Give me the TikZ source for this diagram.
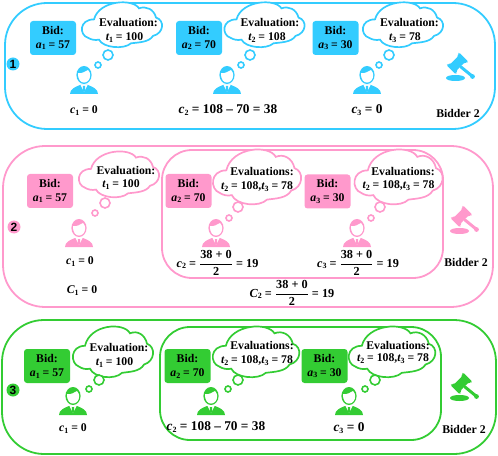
\documentclass[tikz,border=0pt]{standalone}
\usepackage{fontspec}
\setmainfont{Liberation Serif}
\setsansfont{Liberation Sans}
\definecolor{tmblue}{HTML}{33CCFF}
\definecolor{tmpink}{HTML}{FF99CC}
\definecolor{tmgreen}{HTML}{33CC33}
\newcommand{\var}[2]{{\itshape #1}\raisebox{-.35ex}{\fontsize{8}{8}\selectfont #2}}
\newcommand{\half}[1]{$\displaystyle\frac{\hbox{#1}}{\hbox{2}}$}
\tikzset{
  pics/cloud/.style={code={
    \draw[#1,line width=1.7pt,fill=white] (-33,15)
      .. controls (-42,12) and (-42,-5) .. (-27,-5)
      .. controls (-22,-26) and (12,-28) .. (18,-17)
      .. controls (25,-20) and (33,-16) .. (35,-7)
      .. controls (44,-4) and (43,10) .. (32,13)
      .. controls (28,20) and (17,20) .. (10,21)
      .. controls (3,28) and (-18,26) .. (-22,17)
      .. controls (-26,18) and (-30,17) .. cycle;}},
  pics/person/.style={code={
    % body, collar and tie
    \fill[#1] (-14,14) .. controls (-14,9) and (-9,7) .. (-4,5) -- (4,5)
      .. controls (9,7) and (14,9) .. (14,14) -- cycle;
    \fill[white] (-3.5,5) -- (3.5,5) -- (0,12) -- cycle;
    \fill[#1] (-1,6) -- (1,6) -- (1.3,10) -- (0,12.5) -- (-1.3,10) -- cycle;
    % head and hair
    \fill[#1] (0,-5) ellipse (7.6 and 9);
    \fill[white] (-6,-7) .. controls (-2,-6) and (2,-9) .. (4,-10)
      .. controls (5.5,-8) and (6.2,-7) .. (6.2,-5)
      .. controls (6.2,0) and (3,2.6) .. (0,2.6)
      .. controls (-3,2.6) and (-6.2,0) .. cycle;}},
  pics/gavel/.style={code={
    \fill[#1,rounded corners=1.5pt,rotate around={45:(-3,-4)}]
      (-12,-10) -- (-10,-10) -- (-9,-8) -- (3,-8) -- (4,-10) -- (6,-10) -- (6,3) -- (4,3)
      -- (3,1) -- (-9,1) -- (-10,3) -- (-12,3) -- cycle;
    \draw[#1,line width=3pt,line cap=round] (1,0) -- (12,9);
    \fill[#1] (12.5,9.5) circle (2.4);
    \fill[#1] (-14,11) .. controls (-14,7) and (5,7) .. (5,11)
      .. controls (5,15) and (-14,15) .. cycle;}}}
\begin{document}
\begin{tikzpicture}[x=1bp,y=-1bp,
  txt/.style={font=\bfseries\fontsize{11.8}{14}\selectfont,inner sep=0pt,align=center},
  big/.style={font=\bfseries\fontsize{13.4}{15}\selectfont,inner sep=0pt},
  sum/.style={font=\bfseries\fontsize{12.3}{14}\selectfont,inner sep=0pt},
  bid/.style={txt,fill=#1,rounded corners=3pt,minimum height=34bp,minimum width=46bp},
  frame/.style={draw=#1,line width=1.8pt,rounded corners=42bp},
  inframe/.style={draw=#1,line width=1.8pt,rounded corners=30bp},
  puff/.style={draw=#1,line width=1.6pt,fill=white},
  badge/.style={circle,fill=#1,minimum size=13bp,inner sep=0pt,font=\sffamily\bfseries\fontsize{12}{12}\selectfont}]
  \useasboundingbox (0,0) rectangle (498,456);
  % first auction
  \draw[frame=tmblue] (5,3) rectangle (495,129);
  \node[badge=tmblue] (numA) at (13,64) {1};
  \node[bid=tmblue] (bidAa) at (53,38) {Bid:\\\var{a}{1} = 57};
  \node[bid=tmblue] (bidAb) at (199,38) {Bid:\\\var{a}{2} = 70};
  \node[bid=tmblue] (bidAc) at (335.5,38) {Bid:\\\var{a}{3} = 30};
  \pic[yscale=.92] at (121,24) {cloud=tmblue};
  \pic[yscale=.92] at (263.5,24) {cloud=tmblue};
  \pic[yscale=.92] at (402,24) {cloud=tmblue};
  \node[txt] (evalAa) at (128.5,23) {Evaluation:};
  \node[txt] (valAa) at (124.5,38) {\var{t}{1} = 100};
  \node[txt] (evalAb) at (270,23) {Evaluation:};
  \node[txt] (valAb) at (267,38) {\var{t}{2} = 108};
  \node[txt] (evalAc) at (409.5,23) {Evaluation:};
  \node[txt] (valAc) at (405,38) {\var{t}{3} = 78};
  \draw[puff=tmblue] (108,55) circle (5) (98,65) circle (3);
  \draw[puff=tmblue] (250,55) circle (5) (241,65) circle (3);
  \draw[puff=tmblue] (389,55) circle (5) (379,65) circle (3);
  \pic at (84,80) {person=tmblue};
  \pic at (227,80) {person=tmblue};
  \pic at (367,80) {person=tmblue};
  \pic at (460,67) {gavel=tmblue};
  \node[txt] (payAa) at (84,111) {\var{c}{1} = 0};
  \node[big] (payAb) at (228,110) {\var{c}{2} = 108 – 70 = 38};
  \node[big] (payAc) at (367,110) {\var{c}{3} = 0};
  \node[txt] (nameA) at (458,113) {Bidder 2};
  % second auction
  \draw[frame=tmpink] (3,146) rectangle (493,307);
  \draw[inframe=tmpink] (162,150) rectangle (443,278);
  \node[badge=tmpink] (numB) at (14,227) {2};
  \node[bid=tmpink] (bidBa) at (50,191) {Bid:\\\var{a}{1} = 57};
  \node[bid=tmpink] (bidBb) at (188.5,191) {Bid:\\\var{a}{2} = 70};
  \node[bid=tmpink] (bidBc) at (327.5,191.5) {Bid:\\\var{a}{3} = 30};
  \pic[yscale=.94] at (118,173.6) {cloud=tmpink};
  \pic[xscale=1.1,yscale=1.125] at (256,176) {cloud=tmpink};
  \pic[xscale=1.1,yscale=1.125] at (397.5,176) {cloud=tmpink};
  \node[txt] (evalBa) at (126,171) {Evaluation:};
  \node[txt] (valBa) at (121,185) {\var{t}{1} = 100};
  \node[txt] (evalBb) at (262,172) {Evaluations:};
  \node[txt] (valBb) at (257,187) {\var{t}{2} = 108,\var{t}{3} = 78};
  \node[txt] (evalBc) at (403,172) {Evaluations:};
  \node[txt] (valBc) at (398.5,186) {\var{t}{2} = 108,\var{t}{3} = 78};
  \draw[puff=tmpink] (105,203) circle (5) (95,213) circle (3);
  \draw[puff=tmpink] (238,207) circle (5) (229,218) circle (3);
  \draw[puff=tmpink] (380,207) circle (5) (371,218) circle (3);
  \pic at (79,233) {person=tmpink};
  \pic at (216,233) {person=tmpink};
  \pic at (357,233) {person=tmpink};
  \pic at (464,220) {gavel=tmpink};
  \node[txt] (payBa) at (80,262) {\var{c}{1} = 0};
  \node[txt] (totBa) at (82,291) {\var{C}{1} = 0};
  \node[sum] (payBb) at (217.5,263) {\var{c}{2} = \half{38 + 0} = 19};
  \node[sum] (payBc) at (358,263) {\var{c}{3} = \half{38 + 0} = 19};
  \node[sum] (totB) at (292,293) {\var{C}{2} = \half{38 + 0} = 19};
  \node[txt] (nameB) at (466,262) {Bidder 2};
  % third auction
  \draw[frame=tmgreen] (2,320) rectangle (496,454);
  \draw[inframe=tmgreen] (160,327) rectangle (441,440);
  \node[badge=tmgreen] (numC) at (13,390) {3};
  \node[bid=tmgreen] (bidCa) at (47,366) {Bid:\\\var{a}{1} = 57};
  \node[bid=tmgreen] (bidCb) at (187.5,366) {Bid:\\\var{a}{2} = 70};
  \node[bid=tmgreen] (bidCc) at (324.5,366) {Bid:\\\var{a}{3} = 30};
  \pic[yscale=1.04] at (112,351) {cloud=tmgreen};
  \pic[xscale=1.08,yscale=1.04] at (255,351) {cloud=tmgreen};
  \pic[xscale=1.08,yscale=1.04] at (391,351) {cloud=tmgreen};
  \node[txt] (evalCa) at (119,348) {Evaluation:};
  \node[txt] (valCa) at (114.5,363) {\var{t}{1} = 100};
  \node[txt] (evalCb) at (262,346) {Evaluations:};
  \node[txt] (valCb) at (257,361) {\var{t}{2} = 108,\var{t}{3} = 78};
  \node[txt] (evalCc) at (398,346) {Evaluations:};
  \node[txt] (valCc) at (393,359) {\var{t}{2} = 108,\var{t}{3} = 78};
  \draw[puff=tmgreen] (99,380) circle (5) (89,389) circle (3);
  \draw[puff=tmgreen] (238,380) circle (5) (228,389) circle (3);
  \draw[puff=tmgreen] (375,380) circle (5) (365,389) circle (3);
  \pic at (73,401) {person=tmgreen};
  \pic at (211,401) {person=tmgreen};
  \pic at (349,401) {person=tmgreen};
  \pic at (464,387) {gavel=tmgreen};
  \node[txt] (payCa) at (73,429) {\var{c}{1} = 0};
  \node[big] (payCb) at (216,427) {\var{c}{2} = 108 – 70 = 38};
  \node[big] (payCc) at (349,428) {\var{c}{3} = 0};
  \node[txt] (nameC) at (464,429) {Bidder 2};
\end{tikzpicture}
\end{document}
